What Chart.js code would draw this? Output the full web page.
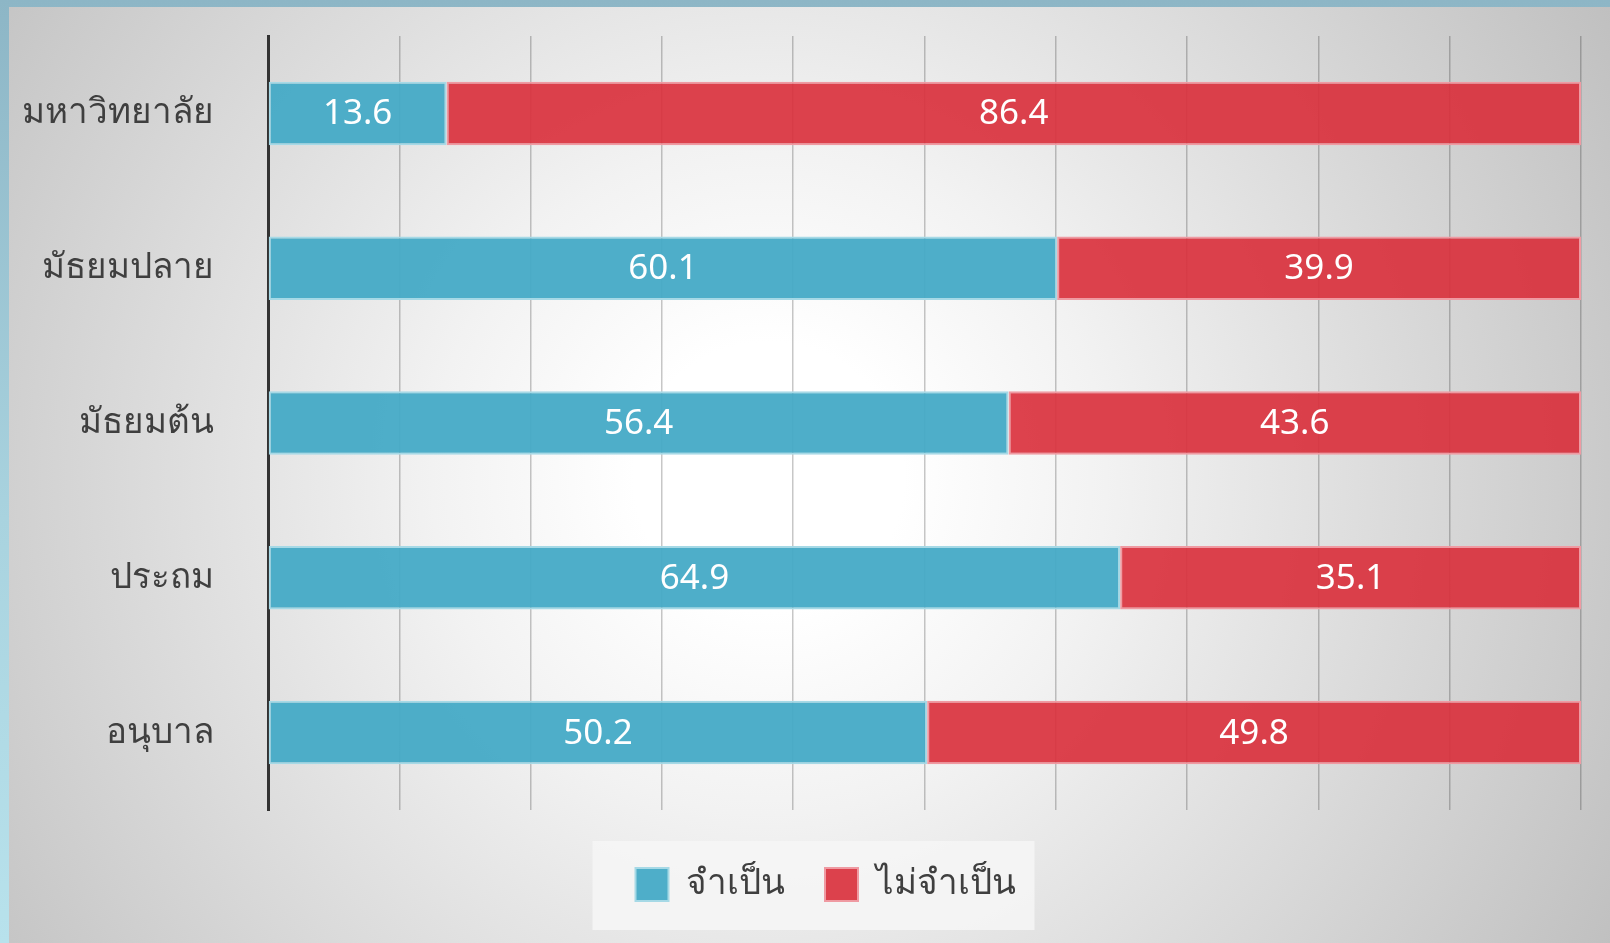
<!DOCTYPE html>
<html>
<head>
<meta charset="utf-8">
<script src="https://cdn.jsdelivr.net/npm/chart.js@4"></script>
<style>
  html, body { margin: 0; padding: 0; }
  body {
    width: 1610px; height: 943px; overflow: hidden;
    background: linear-gradient(180deg, #8db6c6 0%, #a9d3df 55%, #b8e2ec 100%);
  }
  #panel {
    position: absolute; left: 9px; top: 7px; width: 1601px; height: 936px;
    background: radial-gradient(circle farthest-corner at 760px 470px, #ffffff 0%, #ffffff 14%, #f2f2f2 35%, #c0c0c0 100%);
  }
  #wrap { position: absolute; left: 0; top: 0; width: 1610px; height: 943px; }
</style>
</head>
<body>
<div id="panel"></div>
<div id="wrap"><canvas id="bar-chart" width="1610" height="943"></canvas></div>
<script>
// categories, top to bottom
const levels = ["มหาวิทยาลัย", "มัธยมปลาย", "มัธยมต้น", "ประถม", "อนุบาล"];
const needed = [13.6, 60.1, 56.4, 64.9, 50.2];
const notNeeded = [86.4, 39.9, 43.6, 35.1, 49.8];
const xTicks = [0, 10, 20, 30, 40, 50, 60, 70, 80, 90, 100];

const FONT = "'Noto Sans', 'Open Sans', sans-serif";

// white value labels in the middle of each bar
const valueLabels = {
  id: 'valueLabels',
  afterDatasetsDraw(chart) {
    const ctx = chart.ctx;
    ctx.save();
    ctx.fillStyle = '#ffffff';
    ctx.font = '35px ' + FONT;
    ctx.textAlign = 'center';
    ctx.textBaseline = 'middle';
    chart.data.datasets.forEach((ds, i) => {
      chart.getDatasetMeta(i).data.forEach((bar, j) => {
        const p = bar.getCenterPoint();
        ctx.fillText(ds.data[j].toFixed(1), p.x, p.y + 1);
      });
    });
    ctx.restore();
  }
};

// nudge the legend right a bit and put a light box behind it
const legendBox = {
  id: 'legendBox',
  afterLayout(chart) {
    if (chart.legend) {
      chart.legend.left += 35;
      chart.legend.right += 35;
    }
  },
  beforeDraw(chart) {
    const hb = chart.legend && chart.legend.legendHitBoxes;
    if (!hb || !hb.length) return;
    const l = Math.min(...hb.map(b => b.left)) - 43;
    const r = Math.max(...hb.map(b => b.left + b.width)) + 19;
    const ctx = chart.ctx;
    ctx.save();
    ctx.fillStyle = 'rgba(246,246,246,0.85)';
    ctx.fillRect(l, 841, r - l, 89);
    ctx.restore();
  }
};

new Chart(document.getElementById("bar-chart"), {
  type: 'bar',
  data: {
    labels: levels,
    datasets: [
      {
        label: "จำเป็น",
        data: needed,
        backgroundColor: 'rgba(68,170,198,0.95)',
        borderColor: '#a6d9e6',
        borderWidth: 2,
        borderSkipped: false
      },
      {
        label: "ไม่จำเป็น",
        data: notNeeded,
        backgroundColor: 'rgba(217,46,58,0.9)',
        borderColor: '#ef9aa2',
        borderWidth: 2,
        borderSkipped: false
      }
    ]
  },
  options: {
    indexAxis: 'y',
    responsive: false,
    animation: false,
    layout: { padding: { top: 36, right: 29, bottom: 31, left: 0 } },
    scales: {
      x: {
        stacked: true,
        min: 0,
        max: 100,
        afterBuildTicks: s => { s.ticks = xTicks.map(v => ({ value: v })); },
        afterFit: s => { s.height = 17; s.paddingLeft = 0; s.paddingRight = 0; },
        ticks: { display: false },
        grid: { color: 'rgba(0,0,0,0.22)', lineWidth: 1.5, drawTicks: false },
        border: { display: false }
      },
      y: {
        stacked: true,
        afterFit: s => { s.width = 268; s.paddingTop = 0; s.paddingBottom = 0; },
        ticks: { color: '#3f3f3f', font: { size: 35, family: FONT }, padding: 46 },
        grid: { display: false },
        border: { display: true, color: '#333333', width: 3 }
      }
    },
    datasets: { bar: { categoryPercentage: 1, barPercentage: 0.41 } },
    plugins: {
      legend: {
        position: 'bottom',
        labels: {
          color: '#3f3f3f',
          font: { size: 35, family: FONT },
          boxWidth: 33,
          boxHeight: 33,
          padding: 40
        }
      },
      tooltip: { enabled: false }
    }
  },
  plugins: [valueLabels, legendBox]
});
</script>
</body>
</html>
